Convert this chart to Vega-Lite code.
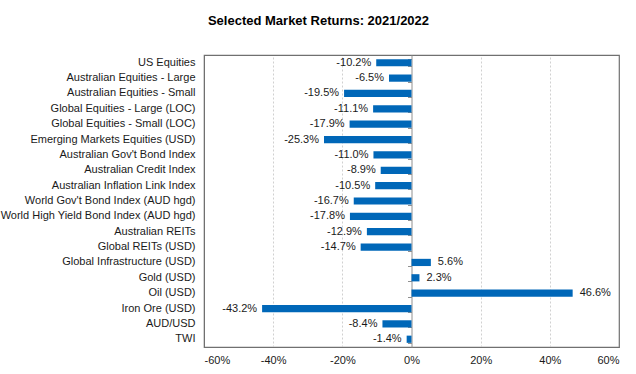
{
  "$schema": "https://vega.github.io/schema/vega-lite/v6.json",
  "width": 415,
  "height": 292,
  "autosize": {"type": "none"},
  "padding": {"left": 204, "top": 55, "right": 17, "bottom": 27},
  "background": "white",
  "title": {
    "text": "Selected Market Returns: 2021/2022",
    "font": "Liberation Sans",
    "fontSize": 13,
    "fontWeight": "bold",
    "color": "#000000",
    "anchor": "middle",
    "frame": "group",
    "dx": -93,
    "offset": 27
  },
  "config": {
    "font": "Liberation Sans",
    "view": {"stroke": "#707070", "strokeWidth": 1.2},
    "locale": {
      "number": {"decimal": ".", "thousands": ",", "grouping": [3], "currency": ["$", ""], "minus": "-"}
    }
  },
  "data": {
    "values": [
      {"asset": "US Equities", "ret": -0.102},
      {"asset": "Australian Equities - Large", "ret": -0.065},
      {"asset": "Australian Equities - Small", "ret": -0.195},
      {"asset": "Global Equities - Large (LOC)", "ret": -0.111},
      {"asset": "Global Equities - Small (LOC)", "ret": -0.179},
      {"asset": "Emerging Markets Equities (USD)", "ret": -0.253},
      {"asset": "Australian Gov't Bond Index", "ret": -0.110},
      {"asset": "Australian Credit Index", "ret": -0.089},
      {"asset": "Australian Inflation Link Index", "ret": -0.105},
      {"asset": "World Gov't Bond Index (AUD hgd)", "ret": -0.167},
      {"asset": "World High Yield Bond Index (AUD hgd)", "ret": -0.178},
      {"asset": "Australian REITs", "ret": -0.129},
      {"asset": "Global REITs (USD)", "ret": -0.147},
      {"asset": "Global Infrastructure (USD)", "ret": 0.056},
      {"asset": "Gold (USD)", "ret": 0.023},
      {"asset": "Oil (USD)", "ret": 0.466},
      {"asset": "Iron Ore (USD)", "ret": -0.432},
      {"asset": "AUD/USD", "ret": -0.084},
      {"asset": "TWI", "ret": -0.014}
    ]
  },
  "resolve": {"axis": {"y": "independent"}},
  "layer": [
    {
      "mark": {"type": "bar", "color": "#0067B8"},
      "encoding": {
        "y": {
          "field": "asset", "type": "nominal", "sort": null,
          "scale": {"paddingInner": 0.53, "paddingOuter": 0.27},
          "axis": {
            "title": null, "domain": true, "domainColor": "#707070", "ticks": false, "orient": "left",
            "labelPadding": 9, "labelFontSize": 11, "labelColor": "#1a1a1a",
            "labelLimit": 260
          }
        },
        "x": {
          "field": "ret", "type": "quantitative",
          "scale": {"domain": [-0.6, 0.6], "nice": false},
          "axis": {
            "title": null, "format": ".0%", "values": [-0.6, -0.4, -0.2, 0, 0.2, 0.4, 0.6],
            "grid": true, "gridColor": "#d0d0d0", "gridDash": [2, 2],
            "gridOpacity": {"condition": {"test": "abs(datum.value) > 0.5 || datum.value == 0", "value": 0}, "value": 1},
            "domainColor": "#707070", "ticks": false, "orient": "bottom",
            "labelPadding": 7, "labelFontSize": 11, "labelColor": "#1a1a1a"
          }
        }
      }
    },
    {
      "mark": {"type": "tick", "opacity": 0},
      "encoding": {
        "y": {
          "field": "asset", "type": "nominal", "sort": null,
          "axis": {
            "title": null, "orient": "left", "offset": -207.5, "labels": false,
            "domain": true, "domainColor": "#909090",
            "ticks": true, "tickBand": "extent", "tickSize": 4, "tickColor": "#909090"
          }
        },
        "x": {"datum": 0, "type": "quantitative"}
      }
    },
    {
      "transform": [{"filter": "datum.ret < 0"}],
      "mark": {"type": "text", "align": "right", "dx": -5, "fontSize": 11, "color": "#1a1a1a"},
      "encoding": {
        "y": {"field": "asset", "type": "nominal", "sort": null, "axis": null},
        "x": {"field": "ret", "type": "quantitative"},
        "text": {"field": "ret", "type": "quantitative", "format": ".1%"}
      }
    },
    {
      "transform": [{"filter": "datum.ret >= 0"}],
      "mark": {"type": "text", "align": "left", "dx": 7, "fontSize": 11, "color": "#1a1a1a"},
      "encoding": {
        "y": {"field": "asset", "type": "nominal", "sort": null, "axis": null},
        "x": {"field": "ret", "type": "quantitative"},
        "text": {"field": "ret", "type": "quantitative", "format": ".1%"}
      }
    }
  ]
}
